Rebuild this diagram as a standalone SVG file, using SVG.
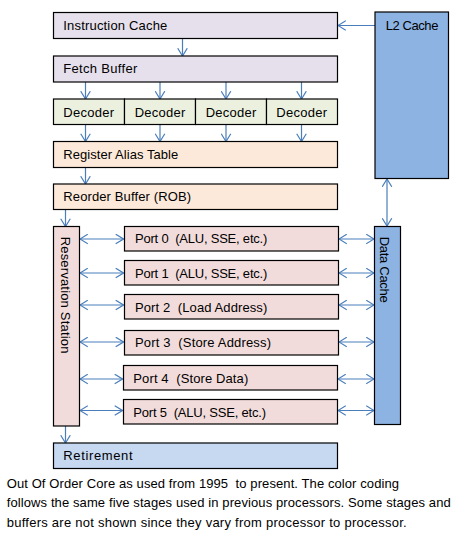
<svg xmlns="http://www.w3.org/2000/svg" width="463" height="534" viewBox="0 0 463 534">
<style>
.b{stroke:#000;stroke-width:1.2}
.t{font-family:"Liberation Sans",Arial,sans-serif;font-size:13px;fill:#000;white-space:pre}
.c{stroke:#4A7EBB;stroke-width:1.2;fill:none}
.fe{fill:#E5E0EC}.de{fill:#EBF1DE}.rn{fill:#FDE9D9}.ex{fill:#F2DCDB}.rt{fill:#C6D9F1}.mc{fill:#8DB3E2}
</style>
<defs>
<marker id="a" markerUnits="userSpaceOnUse" viewBox="0 0 9 11" markerWidth="9" markerHeight="11" refX="8.3" refY="5.5" orient="auto-start-reverse">
<path d="M0.5,0.7 L8.3,5.5 L0.5,10.3" fill="none" stroke="#4A7EBB" stroke-width="1.2"/>
</marker>
</defs>
<rect width="463" height="534" fill="#fff"/>
<g id="connectors" class="c">
<line x1="375" y1="25.5" x2="338" y2="25.5" marker-end="url(#a)"/>
<line x1="182.5" y1="38" x2="182.5" y2="56" marker-end="url(#a)"/>
<line x1="85.5" y1="82" x2="85.5" y2="99" marker-end="url(#a)"/>
<line x1="160" y1="82" x2="160" y2="99" marker-end="url(#a)"/>
<line x1="226" y1="82" x2="226" y2="99" marker-end="url(#a)"/>
<line x1="301.5" y1="82" x2="301.5" y2="99" marker-end="url(#a)"/>
<line x1="85.5" y1="124" x2="85.5" y2="141.5" marker-end="url(#a)"/>
<line x1="160" y1="124" x2="160" y2="141.5" marker-end="url(#a)"/>
<line x1="226" y1="124" x2="226" y2="141.5" marker-end="url(#a)"/>
<line x1="301.5" y1="124" x2="301.5" y2="141.5" marker-end="url(#a)"/>
<line x1="85.5" y1="167" x2="85.5" y2="184" marker-end="url(#a)"/>
<line x1="65.5" y1="209" x2="65.5" y2="226.5" marker-end="url(#a)"/>
<line x1="65.5" y1="426" x2="65.5" y2="443" marker-end="url(#a)"/>
<line x1="387" y1="179" x2="387" y2="226" marker-start="url(#a)" marker-end="url(#a)"/>
<line x1="80" y1="239" x2="123.5" y2="239" marker-start="url(#a)" marker-end="url(#a)"/>
<line x1="80" y1="273" x2="123.5" y2="273" marker-start="url(#a)" marker-end="url(#a)"/>
<line x1="80" y1="305" x2="123.5" y2="305" marker-start="url(#a)" marker-end="url(#a)"/>
<line x1="80" y1="342" x2="123.5" y2="342" marker-start="url(#a)" marker-end="url(#a)"/>
<line x1="80" y1="379" x2="122.5" y2="379" marker-start="url(#a)" marker-end="url(#a)"/>
<line x1="80" y1="410.5" x2="122.5" y2="410.5" marker-start="url(#a)" marker-end="url(#a)"/>
<line x1="339" y1="239" x2="374" y2="239" marker-start="url(#a)" marker-end="url(#a)"/>
<line x1="339" y1="273" x2="374" y2="273" marker-start="url(#a)" marker-end="url(#a)"/>
<line x1="339" y1="305" x2="374" y2="305" marker-start="url(#a)" marker-end="url(#a)"/>
<line x1="339" y1="342" x2="374" y2="342" marker-start="url(#a)" marker-end="url(#a)"/>
<line x1="338" y1="379" x2="374" y2="379" marker-start="url(#a)" marker-end="url(#a)"/>
<line x1="338" y1="410.5" x2="374" y2="410.5" marker-start="url(#a)" marker-end="url(#a)"/>
</g>
<g id="l2-cache"><rect class="b mc" x="375" y="12" width="73.5" height="166.5"/><text class="t" x="385.7" y="29.5" textLength="52.7">L2 Cache</text></g>
<g id="instruction-cache"><rect class="b fe" x="53.5" y="12.5" width="284" height="26"/><text class="t" x="63.3" y="29.5" textLength="104">Instruction Cache</text></g>
<g id="fetch-buffer"><rect class="b fe" x="53.5" y="56" width="284" height="26"/><text class="t" x="63.3" y="73.3" textLength="74">Fetch Buffer</text></g>
<g id="decoder-1"><rect class="b de" x="53.5" y="99" width="71" height="25.5"/><text class="t" x="63.3" y="116.7" textLength="50.7">Decoder</text></g>
<g id="decoder-2"><rect class="b de" x="124.5" y="99" width="71" height="25.5"/><text class="t" x="134.7" y="116.7" textLength="50.7">Decoder</text></g>
<g id="decoder-3"><rect class="b de" x="195.5" y="99" width="71" height="25.5"/><text class="t" x="205.7" y="116.7" textLength="50.7">Decoder</text></g>
<g id="decoder-4"><rect class="b de" x="266.5" y="99" width="71" height="25.5"/><text class="t" x="276.3" y="116.7" textLength="50.7">Decoder</text></g>
<g id="register-alias-table"><rect class="b rn" x="53.5" y="141.5" width="284" height="26"/><text class="t" x="63.3" y="158.5" textLength="115">Register Alias Table</text></g>
<g id="reorder-buffer"><rect class="b rn" x="53.5" y="184" width="284" height="25.5"/><text class="t" x="63.3" y="200.8" textLength="127.7">Reorder Buffer (ROB)</text></g>
<g id="reservation-station"><rect class="b ex" x="53.5" y="226.5" width="26" height="199.5"/><text class="t" transform="translate(61.3,236.7) rotate(90)" x="0" y="0" textLength="116.7">Reservation Station</text></g>
<g id="data-cache"><rect class="b mc" x="374.5" y="226.5" width="26" height="198"/><text class="t" transform="translate(379.8,236.7) rotate(90)" x="0" y="0" textLength="66">Data Cache</text></g>
<g id="port-0"><rect class="b ex" x="124.5" y="226.5" width="214" height="24.5"/><text class="t" x="135" y="243.3" textLength="132.3">Port 0  (ALU, SSE, etc.)</text></g>
<g id="port-1"><rect class="b ex" x="124.5" y="260.5" width="214" height="24.5"/><text class="t" x="135" y="277.7" textLength="132.3">Port 1  (ALU, SSE, etc.)</text></g>
<g id="port-2"><rect class="b ex" x="124.5" y="294.5" width="214" height="24.5"/><text class="t" x="135" y="311.7" textLength="132.3">Port 2  (Load Address)</text></g>
<g id="port-3"><rect class="b ex" x="124.5" y="330.5" width="214" height="24.5"/><text class="t" x="135" y="347.3" textLength="136">Port 3  (Store Address)</text></g>
<g id="port-4"><rect class="b ex" x="123.5" y="365.5" width="214" height="24.5"/><text class="t" x="133.3" y="382.7" textLength="115">Port 4  (Store Data)</text></g>
<g id="port-5"><rect class="b ex" x="123.5" y="399.5" width="214" height="24.5"/><text class="t" x="133.3" y="416.7" textLength="132.7">Port 5  (ALU, SSE, etc.)</text></g>
<g id="retirement"><rect class="b rt" x="53.5" y="443" width="284" height="25.5"/><text class="t" x="63.3" y="459.5" textLength="69.3">Retirement</text></g>
<g id="caption">
<text class="t" x="6.7" y="487.5" textLength="392.3">Out Of Order Core as used from 1995  to present. The color coding</text>
<text class="t" x="6.7" y="507" textLength="444">follows the same five stages used in previous processors. Some stages and</text>
<text class="t" x="6.7" y="527" textLength="400">buffers are not shown since they vary from processor to processor.</text>
</g>
</svg>
